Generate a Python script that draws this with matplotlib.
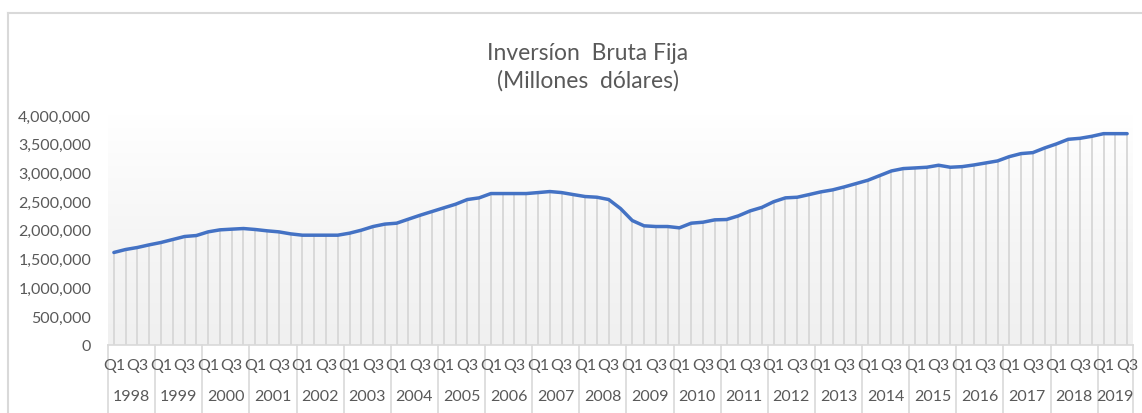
import matplotlib
matplotlib.use("Agg")
import matplotlib.pyplot as plt
import numpy as np
from matplotlib.transforms import blended_transform_factory
from matplotlib.lines import Line2D
from matplotlib.colors import LinearSegmentedColormap

# ---- data ----
years = [1998, 1999, 2000, 2001, 2002, 2003, 2004, 2005, 2006, 2007, 2008,
         2009, 2010, 2011, 2012, 2013, 2014, 2015, 2016, 2017, 2018, 2019]
quarters_per_year = [4] * 21 + [3]
quarter_names = ["Q1", "Q2", "Q3", "Q4"]
values = [1606000, 1658000, 1693000, 1739000, 1780000, 1832000, 1884000, 1901000, 1965000, 2000000,
          2012000, 2023000, 2006000, 1983000, 1965000, 1930000, 1907000, 1907000, 1907000, 1907000,
          1942000, 1994000, 2058000, 2100000, 2116000, 2186000, 2255000, 2319000, 2383000, 2446000,
          2528000, 2557000, 2632000, 2632000, 2632000, 2632000, 2649000, 2667000, 2649000, 2614000,
          2580000, 2568000, 2528000, 2371000, 2162000, 2070000, 2058000, 2058000, 2035000, 2116000,
          2133000, 2174000, 2180000, 2243000, 2330000, 2391000, 2490000, 2557000, 2568000, 2614000,
          2661000, 2696000, 2748000, 2806000, 2864000, 2945000, 3026000, 3067000, 3078000, 3090000,
          3125000, 3090000, 3101000, 3130000, 3165000, 3200000, 3275000, 3328000, 3345000, 3426000,
          3496000, 3577000, 3594000, 3629000, 3675000, 3675000, 3675000]
yticks = [0, 500000, 1000000, 1500000, 2000000, 2500000, 3000000, 3500000, 4000000]
title = "Inversíon  Bruta Fija\n(Millones  dólares)"

# ---- derived ----
q_labels = []
for y, n in zip(years, quarters_per_year):
    q_labels += quarter_names[:n]
x = np.arange(len(values))

W, H = 1142, 414
fig = plt.figure(figsize=(W / 100, H / 100), dpi=100)
fig.patch.set_facecolor("white")
FONT = "Lato"
TXT = "#595959"

left_px, right_px, top_px, bottom_px = 108, 1133, 116, 345.7
ax = fig.add_axes([left_px / W, 1 - bottom_px / H, (right_px - left_px) / W, (bottom_px - top_px) / H])
ax.set_xlim(-0.5, len(values) - 0.5)
ax.set_ylim(0, 4000000)

# background gradient of plot area
cmap = LinearSegmentedColormap.from_list(
    "g", [(0.0, "#f0f0f0"), (0.45, "#f5f5f5"), (0.78, "#fbfbfb"), (1.0, "#ffffff")])
grad = np.linspace(0, 1, 256).reshape(-1, 1)
ax.imshow(grad, aspect="auto", cmap=cmap, origin="lower",
          extent=[-0.5, len(values) - 0.5, 0, 4000000], zorder=0)

# drop lines
ax.vlines(x, 0, values, colors="#d9d9d9", linewidth=1.4, zorder=1)
# main line
ax.plot(x, values, color="#4472C4", linewidth=2.5, solid_capstyle="round",
        solid_joinstyle="round", zorder=3)

for s in ["top", "right", "left"]:
    ax.spines[s].set_visible(False)
ax.spines["bottom"].set_color("#d9d9d9")
ax.spines["bottom"].set_linewidth(1.2)

ax.set_yticks(yticks)
ax.set_yticklabels([f"{v:,}" for v in yticks], fontfamily=FONT, fontsize=11.5, color=TXT)
ax.tick_params(axis="y", length=0, pad=12)

ax.set_xticks([])

# quarter labels (Q1 and Q3 only)
trans_q = blended_transform_factory(ax.transData, fig.transFigure)
for i, lab in enumerate(q_labels):
    if lab in ("Q1", "Q3"):
        ax.text(i, 1 - 366 / H, lab, transform=trans_q, ha="center", va="center",
                fontfamily=FONT, fontsize=11.5, color=TXT, clip_on=False)

# year labels and separators
start = 0
bounds = [start]
for y, n in zip(years, quarters_per_year):
    mid = start + (n - 1) / 2
    ax.text(mid, 1 - 397 / H, str(y), transform=trans_q, ha="center", va="center",
            fontfamily=FONT, fontsize=11.5, color=TXT, clip_on=False)
    start += n
    bounds.append(start)
for b in bounds:
    ln = Line2D([b - 0.5, b - 0.5], [1 - bottom_px / H, 0], transform=trans_q,
                color="#d9d9d9", linewidth=1.2, clip_on=False)
    ax.add_line(ln)

# title
fig.text(588 / W, 1 - 67 / H, title, ha="center", va="center", fontfamily=FONT,
         fontsize=16.5, color=TXT, linespacing=1.35)

# chart border (left and top visible)
fig.add_artist(Line2D([8 / W, 8 / W], [0, 1 - 14 / H], transform=fig.transFigure,
                      color="#d9d9d9", linewidth=1.5))
fig.add_artist(Line2D([8 / W, 1], [1 - 14 / H, 1 - 14 / H], transform=fig.transFigure,
                      color="#d9d9d9", linewidth=1.5))

fig.savefig("out.png", dpi=100, facecolor="white")
